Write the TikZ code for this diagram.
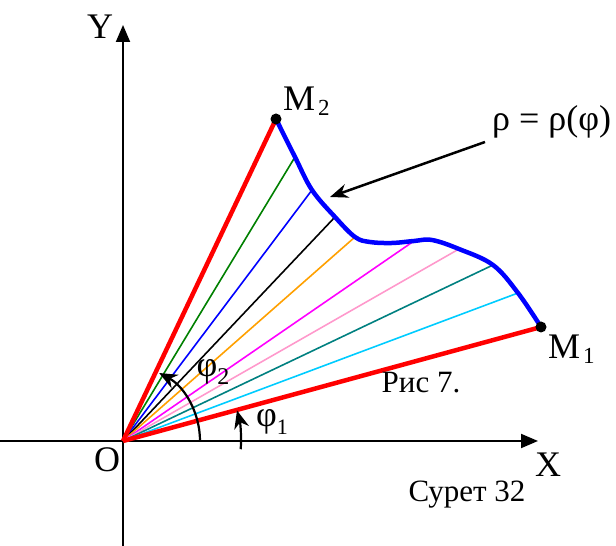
\documentclass[tikz,border=0pt]{standalone}
\usepackage{fontspec}
\setmainfont{Liberation Serif}
\usetikzlibrary{arrows.meta}
\definecolor{cgreen}{RGB}{0,128,0}
\definecolor{cblue}{RGB}{0,0,255}
\definecolor{corange}{RGB}{255,160,0}
\definecolor{cmagenta}{RGB}{255,0,255}
\definecolor{cpink}{RGB}{255,153,204}
\definecolor{cteal}{RGB}{0,128,128}
\definecolor{ccyan}{RGB}{0,204,255}
\definecolor{cred}{RGB}{255,0,0}
\begin{document}
\begin{tikzpicture}[x=1pt,y=1pt,
  axis/.style={line width=2pt,-{Triangle[length=17pt,width=14pt]}},
  ray/.style={line width=1.6pt},
  bound/.style={line width=4.5pt,cred},
  curve/.style={line width=4.5pt,cblue},
  angarc/.style={line width=2.2pt,-{Stealth[length=18pt,width=15pt]}},
  lbl/.style={font=\fontsize{36}{38}\selectfont,inner sep=0pt},
  mlbl/.style={font=\fontsize{36}{38}\selectfont,inner sep=0pt},
  captxt/.style={font=\fontsize{31}{33}\selectfont,inner sep=0pt}]
\useasboundingbox (0,0) rectangle (616,546);
% axes
\coordinate (ybot) at (123,0);
\coordinate (ytop) at (123,521);
\coordinate (xl) at (0,105);
\coordinate (xr) at (538,105);
\draw[axis] (ybot) -- (ytop);
\draw[axis] (xl) -- (xr);
\coordinate (O) at (123,105);
\coordinate (M2) at (276,427);
\coordinate (M1) at (541,219);
% curve points
\coordinate (p1) at (295,389);
\coordinate (p2) at (312,356);
\coordinate (p3) at (335,329);
\coordinate (p4) at (355,309);
\coordinate (p5) at (414,305);
\coordinate (p6) at (459,297);
\coordinate (p7) at (493,281);
\coordinate (p8) at (518,253);
% rays
\draw[ray,cgreen] (O) -- (p1);
\draw[ray,cblue] (O) -- (p2);
\draw[ray,black] (O) -- (p3);
\draw[ray,corange] (O) -- (p4);
\draw[ray,cmagenta] (O) -- (p5);
\draw[ray,cpink] (O) -- (p6);
\draw[ray,cteal] (O) -- (p7);
\draw[ray,ccyan] (O) -- (p8);
% bounding rays
\draw[bound] (O) -- (M2);
\draw[bound] (O) -- (M1);
% curve
\draw[curve] plot[smooth,tension=0.6] coordinates {(276,427) (295,389) (312,356) (335,329) (355,309) (370,304) (392,303) (414,305) (432,306) (459,297) (493,281) (518,253) (541,219)};
\fill (M2) circle (5.5pt);
\fill (M1) circle (5.5pt);
% angle arcs
\draw[angarc] ([shift={(0:77)}]O) arc[start angle=0,end angle=62,radius=77];
\draw[angarc] ([shift={(-4:118)}]O) arc[start angle=-4,end angle=15,radius=118];
% pointer
\node[lbl,anchor=west] (rho) at (492,424) {ρ = ρ(φ)};
\coordinate (ptip) at (330,349);
\draw[line width=2.5pt,-{Stealth[length=18pt,width=14pt]}] (485,404) -- (ptip);
% labels
\node[lbl] (Y) at (100,519) {Y};
\node[lbl] (X) at (548,81) {X};
\node[lbl] (Olbl) at (107,86) {O};
\node[mlbl,anchor=base west] (M2l) at (283,435) {M\hspace{3pt}\raisebox{-5pt}{\fontsize{23}{25}\selectfont 2}};
\node[mlbl,anchor=base west] (M1l) at (548,187) {M\hspace{3pt}\raisebox{-5pt}{\fontsize{23}{25}\selectfont 1}};
\node[lbl] (phi2) at (213,174) {φ\raisebox{-8pt}{\fontsize{24}{26}\selectfont 2}};
\node[lbl] (phi1) at (272,124) {φ\raisebox{-8pt}{\fontsize{22}{24}\selectfont 1}};
\node[captxt] (ris) at (421,163) {Рис 7.};
\node[captxt] (sur) at (467,51) {Сурет 32};
\end{tikzpicture}
\end{document}
